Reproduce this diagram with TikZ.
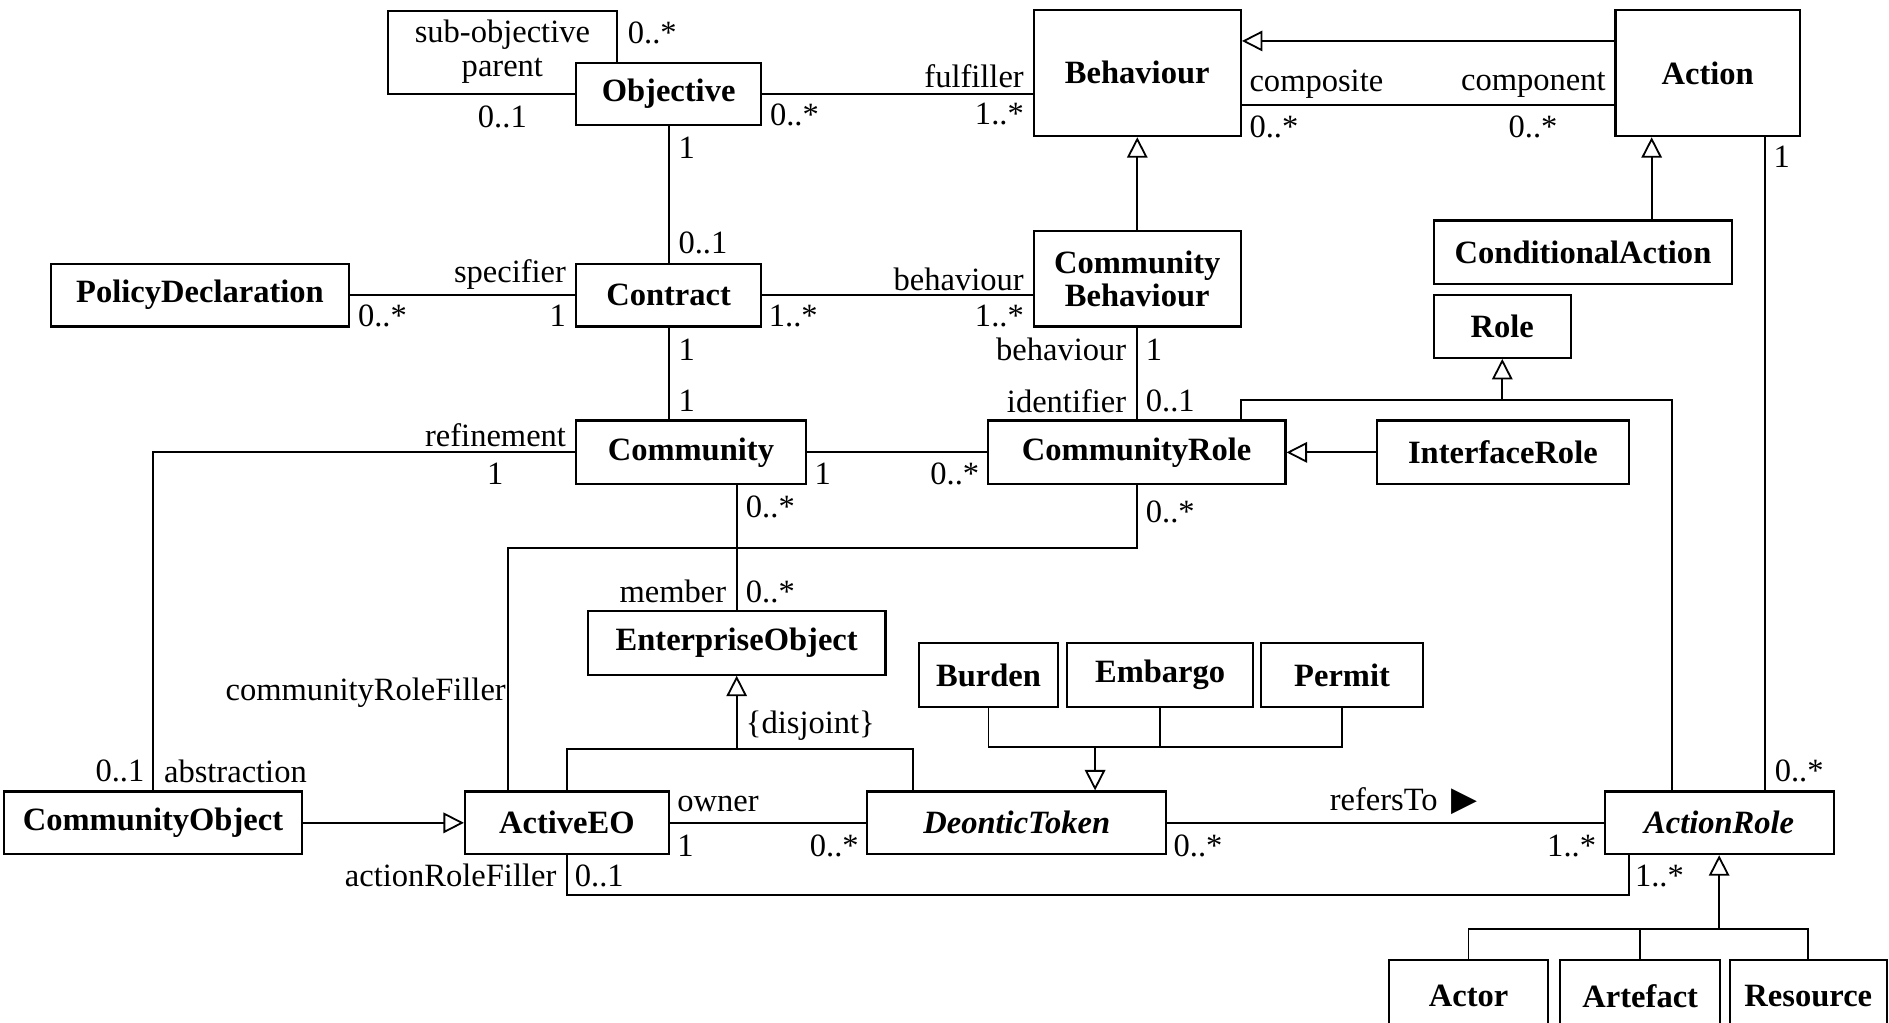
\documentclass[tikz,border=0pt]{standalone}
\usepackage{fontspec}
\setmainfont{Liberation Serif}
\newfontfamily\symfont{DejaVu Sans}
\usetikzlibrary{arrows.meta}
\begin{document}
\begin{tikzpicture}[x=1pt,y=-1pt,
  cls/.style={draw, line width=1.8pt, inner sep=0pt, align=center,
    font=\fontsize{27}{28}\selectfont\bfseries},
  abs/.style={cls, font=\fontsize{27}{28}\selectfont\bfseries\itshape},
  sz/.style 2 args={minimum width=#1pt, minimum height=#2pt},
  lbl/.style={inner sep=0pt, font=\fontsize{27}{28}\selectfont},
  link/.style={line width=1.5pt},
  gen/.style={link, -{Triangle[open, length=17pt, width=17pt, fill=white]}},
]
\clip (0,0) rectangle (1568,849);
\fill[white] (0,0) rectangle (1568,849);

% classes
\node[cls, sz={154}{52}]  (obj)      at (555,78)      {Objective};
\node[cls, sz={172}{105}] (beh)      at (944,60.5)    {Behaviour};
\node[cls, sz={153}{105}] (act)      at (1417.5,60.5) {Action};
\node[cls, sz={248}{53}]  (cact)     at (1314,209.5)  {ConditionalAction};
\node[cls, sz={114}{52}]  (role)     at (1247,271)    {Role};
\node[cls, sz={248}{52}]  (pdecl)    at (166,245)     {PolicyDeclaration};
\node[cls, sz={154}{52}]  (contract) at (555,245)     {Contract};
\node[cls, sz={172}{79}]  (cbeh)     at (944,231.5)   {Community\\Behaviour};
\node[cls, sz={191}{53}]  (comm)     at (573.5,375.5) {Community};
\node[cls, sz={247}{53}]  (crole)    at (943.5,375.5) {CommunityRole};
\node[cls, sz={209}{53}]  (irole)    at (1247.5,375.5){InterfaceRole};
\node[cls, sz={247}{53}]  (eo)       at (611.5,533.5) {EnterpriseObject};
\node[cls, sz={115}{53}]  (burden)   at (820.5,560.5) {Burden};
\node[cls, sz={154}{53}]  (embargo)  at (963,560.5)   {Embargo};
\node[cls, sz={134}{53}]  (permit)   at (1114,560.5)  {Permit};
\node[cls, sz={248}{52}]  (cobj)     at (127,683)     {CommunityObject};
\node[cls, sz={169}{52}]  (aeo)      at (470.5,683)   {ActiveEO};
\node[abs, sz={248}{52}]  (dtok)     at (844,683)     {DeonticToken};
\node[abs, sz={190}{52}]  (arole)    at (1427,683)    {ActionRole};
\node[cls, sz={132}{60}]  (actor)    at (1219,827)    {Actor};
\node[cls, sz={133}{60}]  (artefact) at (1361.5,827)  {Artefact};
\node[cls, sz={130}{60}]  (resource) at (1501,827)    {Resource};

% bend points of the connectors
\coordinate (loopA)   at (322,9);
\coordinate (xAct)    at (1465,0);
\coordinate (caTop)   at (1371,183);
\coordinate (rfBend)  at (422,455);
\coordinate (eoJoin)  at (611.5,622);
\coordinate (dtGen)   at (758,657);
\coordinate (bedJoin) at (909,620);
\coordinate (arfBend) at (1352,743);
\coordinate (roleJoin) at (1247,332);
\coordinate (crUp)    at (1030,332);
\coordinate (arUp)    at (1388,332);
\coordinate (arJoin)  at (1427,771);

% associations
\draw[link] (obj.west) -| (loopA) -| ([xshift=-43pt]obj.north);
\draw[link] (obj.east) -- (obj.east -| beh.west);
\draw[link] ([yshift=-26.5pt]beh.east) -- ([yshift=-26.5pt]act.west);
\draw[link] (xAct |- act.south) -- (xAct |- arole.north);
\draw[link] (obj.south) -- (contract.north);
\draw[link] (pdecl.east) -- (contract.west);
\draw[link] (contract.east) -- (contract.east -| cbeh.west);
\draw[link] (contract.south) -- (contract.south |- comm.north);
\draw[link] (cbeh.south) -- (cbeh.south |- crole.north);
\draw[link] (comm.east) -- (crole.west);
\draw[link] (comm.west) -| (cobj.north);
\draw[link] (eo.north |- comm.south) -- (eo.north);
\draw[link] (crole.south) |- (rfBend) -- (rfBend |- aeo.north);
\draw[link] (aeo.east) -- (dtok.west);
\draw[link] (dtok.east) -- (arole.west);
\draw[link] (aeo.south) |- (arfBend) -- (arfBend |- arole.south);

% generalisations
\draw[gen] ([yshift=26.5pt]act.west) -- ([yshift=26.5pt]beh.east);
\draw[gen] (cbeh.north) -- (beh.south);
\draw[gen] (caTop) -- (caTop |- act.south);
\draw[gen] (irole.west) -- (crole.east);
\draw[link] (crUp |- crole.north) -- (crUp) -- (arUp) -- (arUp |- arole.north);
\draw[gen] (roleJoin) -- (role.south);
\draw[link] (aeo.north) |- (eoJoin) -| (dtGen);
\draw[gen] (eoJoin) -- (eo.south);
\draw[link] (burden.south) |- (bedJoin) -| (permit.south);
\draw[link] (embargo.south) -- (embargo.south |- bedJoin);
\draw[gen] (bedJoin) -- (bedJoin |- dtok.north);
\draw[gen] (cobj.east) -- (aeo.west);
\draw[link] (actor.north) |- (arJoin) -| (resource.north);
\draw[link] (artefact.north) -- (artefact.north |- arJoin);
\draw[gen] (arJoin) -- (arole.south);

% role names and multiplicities
\node[lbl] (l01) at (417,29) {sub-objective};
\node[lbl] (l02) at (417,59) {parent};
\node[lbl, anchor=west] (l03) at (521,27) {0..*};
\node[lbl] (l04) at (417,97) {0..1};
\node[lbl, anchor=west] (l05) at (639,95) {0..*};
\node[lbl, anchor=west] (l06) at (563,123) {1};
\node[lbl, anchor=west] (l07) at (563,202) {0..1};
\node[lbl, anchor=east] (l08) at (850,63) {fulfiller};
\node[lbl, anchor=east] (l09) at (850,95) {1..*};
\node[lbl, anchor=west] (l10) at (1037,70) {composite};
\node[lbl, anchor=west] (l11) at (1037,105) {0..*};
\node[lbl, anchor=east] (l12) at (1333,70) {component};
\node[lbl, anchor=east] (l13) at (1293,105) {0..*};
\node[lbl, anchor=west] (l14) at (1472,130) {1};
\node[lbl, anchor=east] (l15) at (470,228) {specifier};
\node[lbl, anchor=east] (l16) at (470,262) {1};
\node[lbl, anchor=west] (l17) at (297,262) {0..*};
\node[lbl, anchor=east] (l18) at (850,232) {behaviour};
\node[lbl, anchor=west] (l19) at (638,262) {1..*};
\node[lbl, anchor=east] (l20) at (850,262) {1..*};
\node[lbl, anchor=west] (l21) at (563,290) {1};
\node[lbl, anchor=west] (l22) at (563,333) {1};
\node[lbl, anchor=east] (l23) at (935,290) {behaviour};
\node[lbl, anchor=west] (l24) at (951,290) {1};
\node[lbl, anchor=east] (l25) at (935,333) {identifier};
\node[lbl, anchor=west] (l26) at (951,333) {0..1};
\node[lbl, anchor=east] (l27) at (470,361) {refinement};
\node[lbl] (l28) at (411,393) {1};
\node[lbl, anchor=west] (l29) at (676,393) {1};
\node[lbl, anchor=east] (l30) at (813,393) {0..*};
\node[lbl, anchor=west] (l31) at (619,421) {0..*};
\node[lbl, anchor=west] (l32) at (951,425) {0..*};
\node[lbl, anchor=east] (l33) at (603,491) {member};
\node[lbl, anchor=west] (l34) at (619,491) {0..*};
\node[lbl, anchor=east] (l35) at (420,575) {communityRoleFiller};
\node[lbl, anchor=west] (l36) at (619,602) {\{disjoint\}};
\node[lbl, anchor=east] (l37) at (120,640) {0..1};
\node[lbl, anchor=west] (l38) at (136,640) {abstraction};
\node[lbl, anchor=west] (l39) at (562,667) {owner};
\node[lbl, anchor=west] (l40) at (562,702) {1};
\node[lbl, anchor=east] (l41) at (713,702) {0..*};
\node[lbl] (l42) at (1165,665) {refersTo\, {\symfont\fontsize{28}{28}\selectfont ▶}};
\node[lbl, anchor=west] (l43) at (974,702) {0..*};
\node[lbl, anchor=east] (l44) at (1325,702) {1..*};
\node[lbl, anchor=west] (l45) at (1473,640) {0..*};
\node[lbl, anchor=east] (l46) at (462,727) {actionRoleFiller};
\node[lbl, anchor=west] (l47) at (477,727) {0..1};
\node[lbl, anchor=west] (l48) at (1357,727) {1..*};
\end{tikzpicture}
\end{document}
